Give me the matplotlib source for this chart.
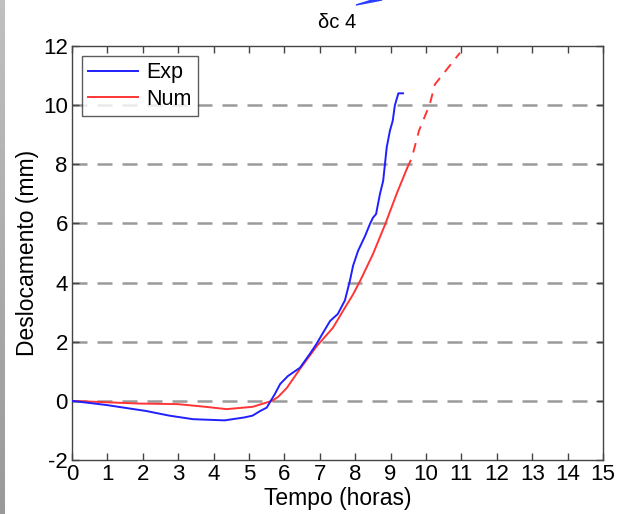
import numpy as np
import matplotlib
matplotlib.use('Agg')
import matplotlib.pyplot as plt
from matplotlib.patches import Polygon

plt.rcParams['font.family'] = ['Liberation Sans', 'DejaVu Sans']
plt.rcParams['axes.unicode_minus'] = False

# Exp curve
exp_t = [0, 0.97, 2.08, 2.75, 3.42, 4.31, 4.87, 5.1, 5.32, 5.5, 5.73, 5.88,
         6.1, 6.44, 6.72, 6.91, 7.09, 7.29, 7.51, 7.71, 7.85, 7.94, 8.08, 8.28,
         8.42, 8.5, 8.59, 8.7, 8.79, 8.84, 8.89, 8.98, 9.06, 9.12, 9.17, 9.22, 9.35]
exp_d = [0, -0.14, -0.34, -0.5, -0.62, -0.66, -0.56, -0.5, -0.34, -0.23, 0.23, 0.57,
         0.84, 1.12, 1.59, 1.93, 2.3, 2.7, 2.94, 3.4, 4.06, 4.57, 5.07, 5.58,
         5.99, 6.19, 6.32, 7.0, 7.44, 8.0, 8.57, 9.13, 9.47, 9.99, 10.2, 10.4, 10.4]

# Num curve, solid part
num_t = [0, 1.86, 2.98, 3.76, 4.37, 5.11, 5.65, 5.82, 6.07, 6.44, 6.92, 7.37,
         7.71, 7.94, 8.14, 8.5, 8.84, 9.17, 9.46]
num_d = [0, -0.09, -0.11, -0.2, -0.28, -0.2, 0.0, 0.13, 0.44, 1.08, 1.86, 2.47,
         3.15, 3.6, 4.06, 4.96, 5.95, 7.0, 7.85]

# Num curve, dashed extension
ext_t = [9.46, 9.6, 9.8, 10.11, 10.25, 10.96]
ext_d = [7.85, 8.22, 9.13, 10.04, 10.7, 11.77]

xticks = list(range(0, 16))
yticks = list(range(-2, 13, 2))
grid_levels = [0, 2, 4, 6, 8, 10]

fig = plt.figure(figsize=(6.17, 5.14), dpi=100)
ax = fig.add_axes([72/617, 1-460/514, 531/617, 414/514])

for g in grid_levels:
    ax.axhline(g, color='#9a9a9a', lw=1.8, dashes=(6, 4), zorder=1)

ax.plot(exp_t, exp_d, color='#1f1fff', lw=1.4, label='Exp', zorder=3)
ax.plot(num_t, num_d, color='#ff3535', lw=1.4, label='Num', zorder=2)
ax.plot(ext_t, ext_d, color='#ff3535', lw=1.4, dashes=(5, 4), zorder=2)

ax.set_xlim(0, 15)
ax.set_ylim(-2, 12)
ax.set_xticks(xticks)
ax.set_yticks(yticks)
ax.tick_params(direction='in', top=True, right=True, labelsize=16,
               length=5, width=1, color='#444444', pad=3)
for s in ax.spines.values():
    s.set_color('#444444')
    s.set_linewidth(1)

ax.set_xlabel('Tempo (horas)', fontsize=16.5, labelpad=1)
ax.set_ylabel('Deslocamento (mm)', fontsize=16.5, labelpad=3)
ax.set_title('δc 4', fontsize=14.5, pad=13)

leg = ax.legend(loc='upper left', fontsize=15.5, frameon=True, fancybox=False,
                handlelength=2.3, borderpad=0.3, labelspacing=0.25,
                handletextpad=0.4, borderaxespad=0.45)
leg.get_frame().set_edgecolor('#333333')
leg.get_frame().set_linewidth(1)

# gray band at left edge
band = fig.add_axes([0, 0, 5/617, 1])
band.imshow(np.linspace(0.75, 0.6, 100).reshape(-1, 1), cmap='gray', vmin=0, vmax=1,
            aspect='auto', extent=[0, 1, 0, 1])
band.axis('off')

# blue arrow tip fragment at top
tip = Polygon([(356/617, 1-5/514), (372/617, 1.0), (382/617, 1.0)],
              closed=True, transform=fig.transFigure, color='#2a3cff')
fig.add_artist(tip)

fig.savefig('out.png', dpi=100)
